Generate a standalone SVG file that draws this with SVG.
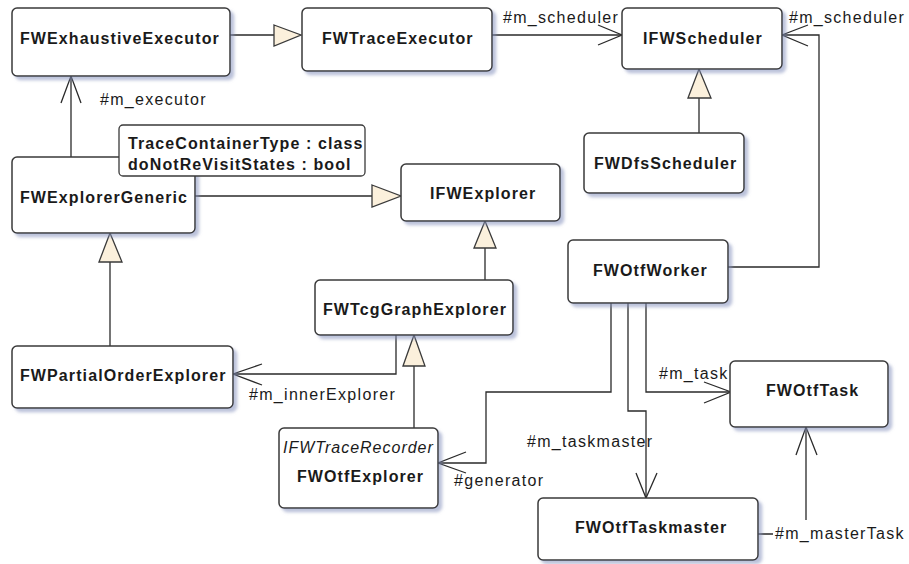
<svg xmlns="http://www.w3.org/2000/svg" width="909" height="564" viewBox="0 0 909 564">
  <defs>
    <filter id="shadow" x="-10%" y="-10%" width="130%" height="140%">
      <feDropShadow dx="3.5" dy="3.5" stdDeviation="1.4" flood-color="#8490bb" flood-opacity="0.55"/>
    </filter>
  </defs>
  <style>
    .box { fill: #ffffff; stroke: #3a3a3a; stroke-width: 1.5; filter: url(#shadow); }
    .name { font-family: "Liberation Sans", Arial, sans-serif; font-size: 16px; font-weight: bold; letter-spacing: 1.1px; fill: #1a1a1a; }
    .stereo { font-family: "Liberation Sans", Arial, sans-serif; font-size: 16px; font-style: italic; letter-spacing: 1px; fill: #1a1a1a; }
    .lbl { font-family: "Liberation Sans", Arial, sans-serif; font-size: 16px; letter-spacing: 1.3px; fill: #1a1a1a; }
    .line { fill: none; stroke: #2a2a2a; stroke-width: 1.3; }
    .open { fill: none; stroke: #2a2a2a; stroke-width: 1.3; }
    .tri { fill: #fbf0dc; stroke: #3a3a3a; stroke-width: 1.3; stroke-linejoin: miter; }
  </style>

  <!-- connectors -->
  <g id="connectors">
    <!-- FWExhaustiveExecutor generalizes FWTraceExecutor -->
    <line class="line" x1="230" y1="35" x2="274" y2="35"/>
    <polygon class="tri" points="274,25 301,35 274,46"/>

    <!-- FWTraceExecutor -> IFWScheduler -->
    <line class="line" x1="492" y1="35" x2="622" y2="35"/>
    <polyline class="open" points="598,25 622,35 598,45"/>
    <text class="lbl" x="503" y="23">#m_scheduler</text>

    <!-- FWOtfWorker -> IFWScheduler -->
    <polyline class="line" points="728,267 819,267 819,35 782,35"/>
    <polyline class="open" points="808,25 782,35 808,46"/>
    <text class="lbl" x="789" y="23">#m_scheduler</text>

    <!-- FWDfsScheduler generalizes IFWScheduler -->
    <line class="line" x1="699" y1="133" x2="699" y2="98"/>
    <polygon class="tri" points="688,98 699,69 711,98"/>

    <!-- FWExplorerGeneric -> FWExhaustiveExecutor -->
    <line class="line" x1="71" y1="157" x2="71" y2="76"/>
    <polyline class="open" points="61,103 71,76 81,103"/>
    <text class="lbl" x="100" y="105">#m_executor</text>

    <!-- FWExplorerGeneric generalizes IFWExplorer -->
    <line class="line" x1="195" y1="196" x2="372" y2="196"/>
    <polygon class="tri" points="372,185 401,196 372,207"/>

    <!-- FWTcgGraphExplorer generalizes IFWExplorer -->
    <line class="line" x1="485" y1="280" x2="485" y2="248"/>
    <polygon class="tri" points="474,248 485,221 496,248"/>

    <!-- FWPartialOrderExplorer generalizes FWExplorerGeneric -->
    <line class="line" x1="110" y1="346" x2="110" y2="262"/>
    <polygon class="tri" points="99,262 110,233 122,262"/>

    <!-- FWTcgGraphExplorer -> FWPartialOrderExplorer -->
    <polyline class="line" points="396,335 396,374 233,374"/>
    <polyline class="open" points="262,364 233,374 262,385"/>
    <text class="lbl" x="249" y="400">#m_innerExplorer</text>

    <!-- FWOtfExplorer generalizes FWTcgGraphExplorer -->
    <line class="line" x1="414" y1="428" x2="414" y2="366"/>
    <polygon class="tri" points="403,366 414,335 425,366"/>

    <!-- FWOtfWorker -> FWOtfExplorer -->
    <polyline class="line" points="611,303 611,392 486,392 486,463 438,463"/>
    <polyline class="open" points="466,452 438,463 466,473"/>
    <text class="lbl" x="454" y="486">#generator</text>

    <!-- FWOtfWorker -> FWOtfTask -->
    <polyline class="line" points="646,303 646,392 731,392"/>
    <polyline class="open" points="704,382 731,392 704,403"/>
    <text class="lbl" x="659" y="379">#m_task</text>

    <!-- FWOtfWorker -> FWOtfTaskmaster -->
    <polyline class="line" points="628,303 628,411 646,411 646,498"/>
    <polyline class="open" points="636,473 646,498 657,473"/>
    <text class="lbl" x="527" y="447">#m_taskmaster</text>

    <!-- FWOtfTaskmaster -> FWOtfTask -->
    <polyline class="line" points="758,534 806,534 806,427"/>
    <polyline class="open" points="796,455 806,427 817,455"/>
    <rect x="773" y="520" width="134" height="22" fill="#ffffff"/>
    <text class="lbl" x="775" y="539">#m_masterTask</text>
  </g>

  <!-- classes -->
  <g id="FWExhaustiveExecutor">
    <rect class="box" x="12" y="8" width="218" height="68" rx="5"/>
    <text class="name" x="20" y="44">FWExhaustiveExecutor</text>
  </g>

  <g id="FWTraceExecutor">
    <rect class="box" x="302" y="8" width="190" height="63" rx="5"/>
    <text class="name" x="322" y="44">FWTraceExecutor</text>
  </g>

  <g id="IFWScheduler">
    <rect class="box" x="622" y="8" width="160" height="61" rx="5"/>
    <text class="name" x="643" y="44">IFWScheduler</text>
  </g>

  <g id="FWDfsScheduler">
    <rect class="box" x="584" y="133" width="160" height="60" rx="5"/>
    <text class="name" x="594" y="169">FWDfsScheduler</text>
  </g>

  <g id="FWExplorerGeneric">
    <rect class="box" x="12" y="157" width="183" height="76" rx="5"/>
    <text class="name" x="20" y="203">FWExplorerGeneric</text>
  </g>

  <g id="FWExplorerGeneric-template">
    <rect x="119" y="125" width="246" height="51" rx="4" fill="#ffffff" stroke="#3a3a3a" stroke-width="1.3"/>
    <text class="name" x="128" y="149">TraceContainerType : class</text>
    <text class="name" x="128" y="170">doNotReVisitStates : bool</text>
  </g>

  <g id="IFWExplorer">
    <rect class="box" x="401" y="164" width="159" height="57" rx="5"/>
    <text class="name" x="430" y="199">IFWExplorer</text>
  </g>

  <g id="FWTcgGraphExplorer">
    <rect class="box" x="315" y="280" width="198" height="55" rx="5"/>
    <text class="name" x="323" y="315">FWTcgGraphExplorer</text>
  </g>

  <g id="FWPartialOrderExplorer">
    <rect class="box" x="12" y="346" width="221" height="62" rx="5"/>
    <text class="name" x="20" y="381">FWPartialOrderExplorer</text>
  </g>

  <g id="FWOtfExplorer">
    <rect class="box" x="279" y="428" width="159" height="80" rx="5"/>
    <text class="stereo" x="283" y="453">IFWTraceRecorder</text>
    <text class="name" x="297" y="482">FWOtfExplorer</text>
  </g>

  <g id="FWOtfWorker">
    <rect class="box" x="568" y="240" width="160" height="63" rx="5"/>
    <text class="name" x="593" y="276">FWOtfWorker</text>
  </g>

  <g id="FWOtfTask">
    <rect class="box" x="730" y="361" width="158" height="66" rx="5"/>
    <text class="name" x="766" y="396">FWOtfTask</text>
  </g>

  <g id="FWOtfTaskmaster">
    <rect class="box" x="538" y="498" width="220" height="62" rx="5"/>
    <text class="name" x="575" y="533">FWOtfTaskmaster</text>
  </g>
</svg>
